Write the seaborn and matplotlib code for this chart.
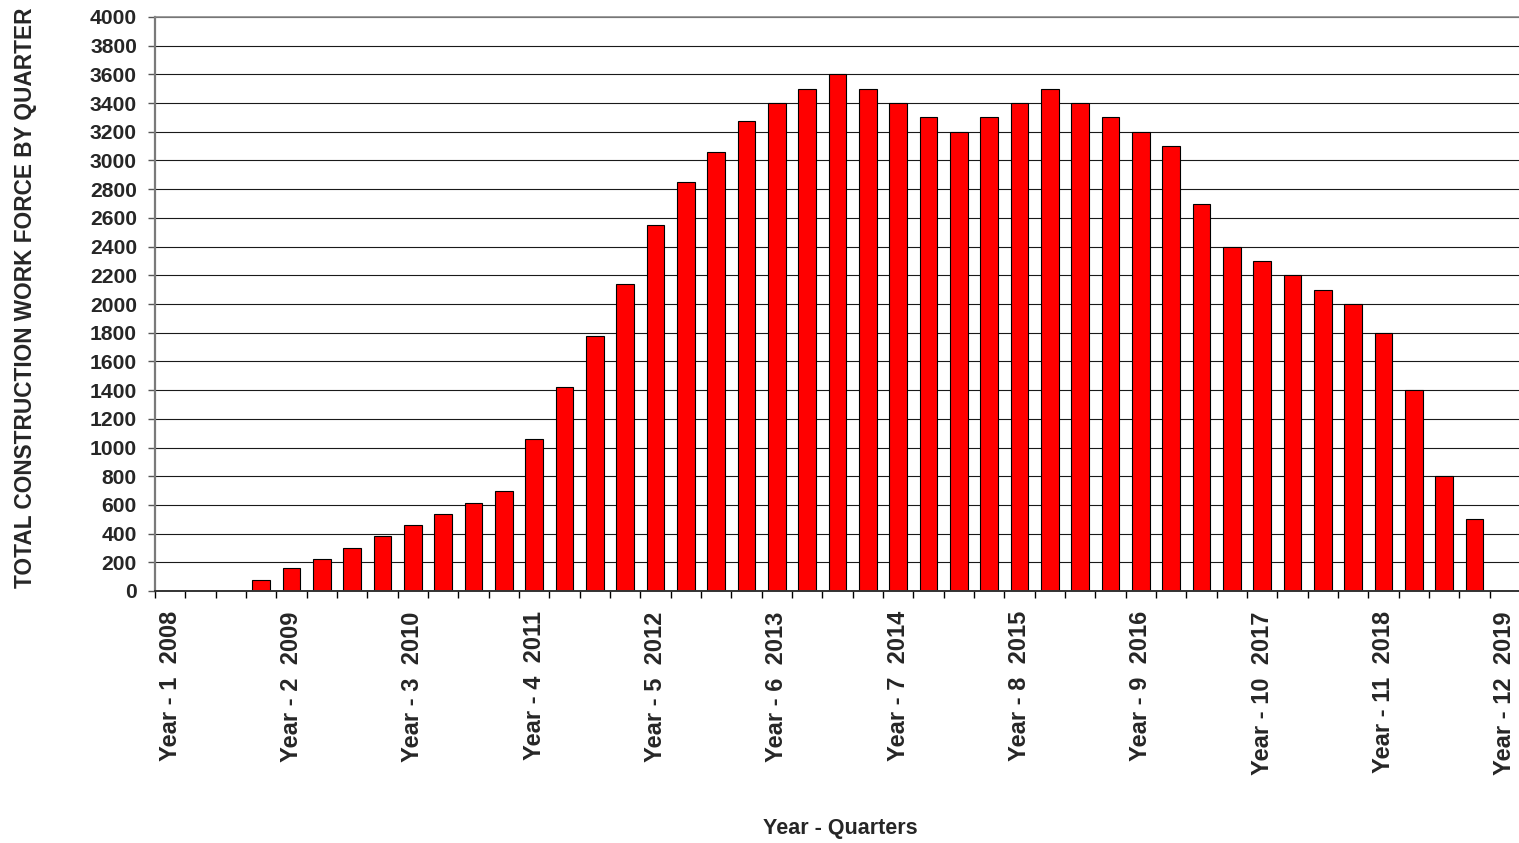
import numpy as np
import pandas as pd
import matplotlib
matplotlib.use("Agg")
import matplotlib.pyplot as plt
import seaborn as sns

# ---- data ----
quarters = list(range(45))
workforce = [0, 0, 0, 80, 160, 225, 300, 380, 460, 535, 610, 700, 1060, 1420,
             1780, 2140, 2550, 2850, 3060, 3275, 3400, 3500, 3600, 3500, 3400,
             3300, 3200, 3300, 3400, 3500, 3400, 3300, 3200, 3100, 2700, 2400,
             2300, 2200, 2100, 2000, 1800, 1400, 800, 500, 0]
year_labels = ["Year - 1  2008", "Year - 2  2009", "Year - 3  2010",
               "Year - 4  2011", "Year - 5  2012", "Year - 6  2013",
               "Year - 7  2014", "Year - 8  2015", "Year - 9  2016",
               "Year - 10  2017", "Year - 11  2018", "Year - 12  2019"]
y_ticks = list(range(0, 4001, 200))

df = pd.DataFrame({"quarter": quarters, "workforce": workforce})

sns.set_style("white")
plt.rcParams["font.family"] = ["Liberation Sans", "DejaVu Sans"]

W, H = 1519, 843
fig = plt.figure(figsize=(W / 100, H / 100), dpi=100)
ax = fig.add_axes([155 / W, (H - 591) / H, (1520 - 155) / W, (591 - 17) / H])

sns.barplot(data=df, x="quarter", y="workforce", color="#ff0000",
            saturation=1, width=0.59, edgecolor="black", linewidth=0.8, ax=ax)

ax.set_xlim(-0.5, 44.5)
ax.set_ylim(0, 4000)

# grid
ax.set_axisbelow(True)
ax.yaxis.grid(True, color="#1a1a1a", linewidth=0.8)
ax.xaxis.grid(False)

# spines
for s in ["right"]:
    ax.spines[s].set_visible(False)
ax.spines["top"].set_color("#8a8a8a")
ax.spines["top"].set_linewidth(1.2)
ax.spines["left"].set_color("#7a7a7a")
ax.spines["left"].set_linewidth(1.6)
ax.spines["bottom"].set_color("#333333")
ax.spines["bottom"].set_linewidth(1.4)

# y ticks
ax.set_yticks(y_ticks)
ax.set_yticklabels([str(v) for v in y_ticks], fontsize=15.2, fontweight="bold")
ax.tick_params(axis="y", which="major", left=True, length=5, width=1,
               color="#555555", pad=8, direction="out")

# x ticks: labels at first quarter of each year, marks between quarters
label_pos = quarters[::4]
ax.set_xticks(label_pos)
ax.set_xticklabels(year_labels, rotation=90, fontsize=17, fontweight="bold")
ax.tick_params(axis="x", which="major", bottom=True, length=0, pad=14.5)
ax.set_xticks(np.arange(-0.5, 45, 1), minor=True)
ax.tick_params(axis="x", which="minor", bottom=True, length=5, width=1,
               color="black", direction="out")

# axis titles
ax.set_xlabel("Year - Quarters", fontsize=15.5, fontweight="bold")
ax.xaxis.label.set_va("baseline")
ax.xaxis.set_label_coords((840 - 155) / 1365, (591 - 834) / 574)
ax.set_ylabel("TOTAL CONSTRUCTION WORK FORCE BY QUARTER", fontsize=16.3,
              fontweight="bold")
ax.yaxis.label.set_va("baseline")
ax.yaxis.set_label_coords((32.5 - 155) / 1365, (591 - 297.5) / 574)

fig.savefig("out.png", dpi=100)
